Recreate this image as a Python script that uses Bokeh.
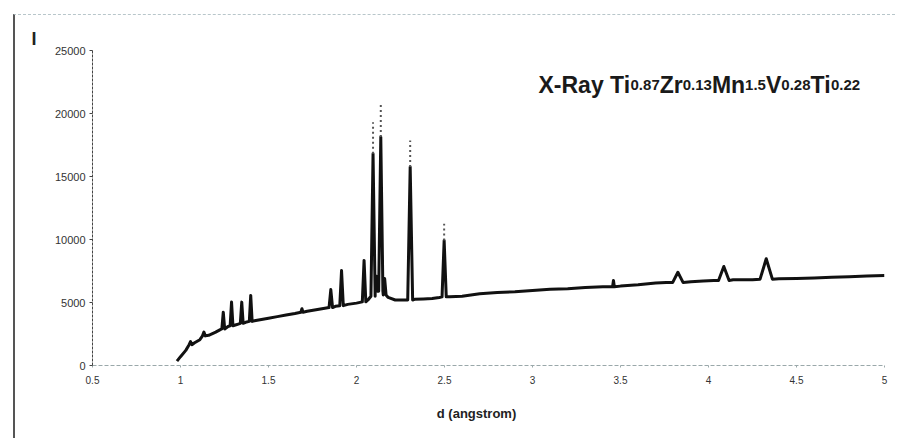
from bokeh.plotting import figure
from bokeh.models import Label, FixedTicker, Title
from bokeh.embed import file_html
from bokeh.resources import INLINE

# ---------------- data ----------------
# background curve (d in angstrom, intensity)
base_d = [0.98, 1.00, 1.03, 1.08, 1.11, 1.16, 1.20, 1.226, 1.27, 1.32,
          1.37, 1.42, 1.46, 1.50, 1.55, 1.60, 1.65, 1.72, 1.77, 1.82,
          1.88, 1.95, 2.00, 2.065, 2.122, 2.18, 2.22, 2.27, 2.33, 2.38,
          2.43, 2.47, 2.53, 2.60, 2.70, 2.80, 2.90, 3.00, 3.10, 3.20,
          3.30, 3.40, 3.50, 3.60, 3.70, 3.76, 3.90, 3.97, 4.03, 4.14,
          4.25, 4.40, 4.50, 4.60, 4.70, 4.80, 4.90, 5.00]
base_I = [350, 700, 1200, 1800, 2050, 2400, 2650, 2850, 3100, 3250,
          3430, 3550, 3650, 3750, 3880, 4000, 4130, 4300, 4420, 4550,
          4700, 4850, 4950, 5200, 5900, 5400, 5200, 5200, 5250, 5280,
          5320, 5400, 5450, 5500, 5700, 5800, 5850, 5950, 6050, 6100,
          6200, 6250, 6300, 6400, 6550, 6580, 6650, 6700, 6750, 6800,
          6800, 6880, 6900, 6950, 7000, 7050, 7100, 7150]

# diffraction peaks
peak_d = [1.057, 1.133, 1.243, 1.290, 1.348, 1.399, 1.690, 1.854, 1.915, 2.043,
          2.094, 2.112, 2.138, 2.160, 2.305, 2.498, 3.460, 3.826, 4.087, 4.328]
peak_top = [1900, 2650, 4230, 5030, 5030, 5560, 4500, 6030, 7540, 8340,
            16800, 7100, 18130, 6900, 15750, 9920, 6750, 7400, 7860, 8470]
peak_base = [1650, 2350, 2900, 3150, 3350, 3500, 4230, 4600, 4750, 5050,
             5500, 5900, 5900, 5600, 5200, 5450, 6250, 6580, 6750, 6850]
peak_hw = [0.008, 0.008, 0.008, 0.008, 0.008, 0.008, 0.006, 0.010, 0.010, 0.010,
           0.012, 0.006, 0.012, 0.008, 0.014, 0.012, 0.005, 0.030, 0.030, 0.035]

# dotted (faint) continuation above the strongest peaks
dot_d = [2.094, 2.138, 2.305, 2.498]
dot_from = [16800, 18130, 15750, 9920]
dot_to = [19300, 20770, 17860, 11250]

x_ticks = [0.5, 1, 1.5, 2, 2.5, 3, 3.5, 4, 4.5, 5]
x_tick_labels = ["0.5", "1", "1.5", "2", "2.5", "3", "3.5", "4", "4.5", "5"]
y_ticks = [0, 5000, 10000, 15000, 20000, 25000]

x_label = "d (angstrom)"
y_label = "I"
title_parts = [("X-Ray Ti", "big"), ("0.87", "small"), ("Zr", "big"), ("0.13", "small"),
               ("Mn", "big"), ("1.5", "small"), ("V", "big"), ("0.28", "small"),
               ("Ti", "big"), ("0.22", "small")]

# ---------------- build profile ----------------
pts = list(zip(base_d, base_I))
for d, top, b, hw in zip(peak_d, peak_top, peak_base, peak_hw):
    pts += [(d - hw, b), (d, top), (d + hw, b)]
pts.sort(key=lambda t: t[0])
prof_d = [t[0] for t in pts]
prof_I = [t[1] for t in pts]

# ---------------- figure ----------------
W, H = 897, 439
ML, MT = 13, 14                 # scan frame offset
BL, BT = 2, 1                   # css border widths
FL, FR, FT, FB = 92, 884, 50, 365   # frame in page pixels
FONT = "Liberation Sans"

p = figure(width=W - ML - BL, height=H - MT - BT, output_backend="svg",
           toolbar_location=None,
           x_range=(0.5, 5.0), y_range=(0, 25000),
           min_border_left=FL - ML - BL, min_border_right=W - FR,
           min_border_top=FT - MT - BT, min_border_bottom=H - FB)
p.margin = (MT, 0, 0, ML)
p.styles = {"border-left": f"{BL}px solid #555555",
            "border-top": f"{BT}px dashed #b8c6ca"}
p.outline_line_color = None
p.xgrid.visible = False
p.ygrid.visible = False
p.background_fill_color = "white"
p.border_fill_color = "white"

p.line(prof_d, prof_I, line_color="#111111", line_width=3, line_join="round")
p.segment(x0=dot_d, y0=dot_from, x1=dot_d, y1=dot_to, line_color="#555555",
          line_width=2, line_dash="2 3")

# axes
ya = p.yaxis[0]
ya.ticker = FixedTicker(ticks=y_ticks)
ya.major_label_text_font = FONT
ya.major_label_text_font_size = "11px"
ya.major_label_text_color = "#333333"
ya.major_tick_out = 3
ya.major_tick_in = 0
ya.minor_tick_out = 0
ya.minor_tick_in = 0
ya.axis_line_color = "#444444"
ya.axis_line_dash = "3 1"
ya.major_tick_line_color = "#444444"
ya.major_label_standoff = 4

xa = p.xaxis[0]
xa.ticker = FixedTicker(ticks=x_ticks)
xa.major_label_overrides = {t: l for t, l in zip(x_ticks, x_tick_labels)}
xa.major_label_text_font = FONT
xa.major_label_text_font_size = "10px"
xa.major_label_text_color = "#333333"
xa.major_tick_out = 2
xa.major_tick_in = 0
xa.minor_tick_out = 0
xa.minor_tick_in = 0
xa.axis_line_color = "#9aa8aa"
xa.axis_line_dash = "4 2"
xa.major_tick_line_color = "#9aa8aa"
xa.major_label_standoff = 8

# x axis title (below the axis, left-aligned with offset so it sits where the scan has it)
xt_w = 6.111 * 13
p.add_layout(Title(text=x_label, align="left", offset=476 - FL - xt_w / 2,
                   text_font=FONT, text_font_size="13px", text_font_style="bold",
                   text_color="#222222", standoff=34), "below")
# y axis title "I" at the top left
p.add_layout(Title(text=y_label, align="left", offset=31 - FL,
                   text_font=FONT, text_font_size="18px", text_font_style="bold",
                   text_color="#222222", standoff=4), "above")

# title with small numbers (approximate Arial Bold widths)
wtab = {"X": .667, "-": .333, "R": .722, "a": .556, "y": .556, " ": .278, "T": .611,
        "i": .278, "Z": .611, "r": .389, "M": .833, "n": .611, "V": .667, ".": .278}
BIG, SMALL = 23, 15
xpos = 538
for txt, kind in title_parts:
    fs = BIG if kind == "big" else SMALL
    p.add_layout(Label(x=xpos - FL, y=FB - 84, x_units="screen", y_units="screen",
                       text=txt, text_font=FONT, text_font_size=f"{fs}px",
                       text_font_style="bold", text_align="left",
                       text_baseline="alphabetic", text_color="#1a1a1a"))
    xpos += sum(wtab.get(c, .556) for c in txt) * fs

open("out.html", "w").write(file_html(p, INLINE))
